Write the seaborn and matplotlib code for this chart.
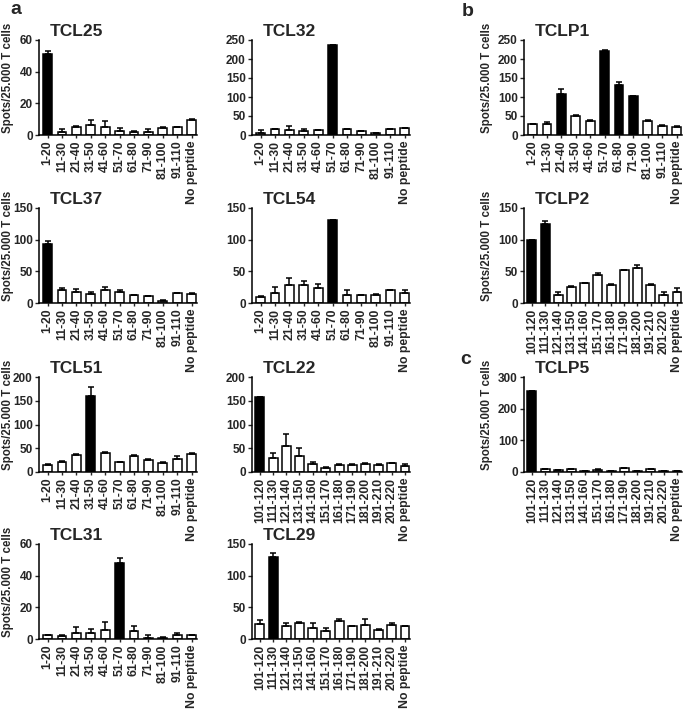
import matplotlib
matplotlib.use('Agg')
import matplotlib.pyplot as plt
import seaborn as sns
import pandas as pd
import numpy as np

sns.set_style('ticks')
plt.rcParams['font.family'] = ['Liberation Sans', 'DejaVu Sans']
plt.rcParams['font.weight'] = 'bold'
plt.rcParams['axes.labelweight'] = 'bold'

# ---------------- data ----------------
labels_low = ['1-20', '11-30', '21-40', '31-50', '41-60', '51-70', '61-80',
              '71-90', '81-100', '91-110', 'No peptide']
labels_high = ['101-120', '111-130', '121-140', '131-150', '141-160', '151-170',
               '161-180', '171-190', '181-200', '191-210', '201-220', 'No peptide']

tcl25_vals = [51, 2, 5, 6.5, 5, 2.5, 2, 2, 4.5, 5, 9.5]
tcl25_err = [2, 2, 1, 3, 4, 2, 0.3, 1.5, 0.3, 0.3, 0.3]
tcl25_pos = ['1-20']

tcl32_vals = [6, 15, 13, 10, 13, 236, 15, 10, 6, 16, 19]
tcl32_err = [7, 0.5, 11, 6, 0.5, 2, 0.5, 0.5, 0.5, 0.5, 0.5]
tcl32_pos = ['51-70']

tclp1_vals = [28, 28, 108, 50, 38, 222, 132, 102, 38, 25, 22]
tclp1_err = [2, 6, 12, 2, 2, 2, 8, 1, 2, 1, 1]
tclp1_pos = ['21-40', '51-70', '61-80', '71-90']

tcl37_vals = [93, 20, 17, 15, 21, 17, 12, 10.5, 3.5, 16, 15]
tcl37_err = [5, 4, 5, 3, 5, 4, 0.5, 0.5, 0.5, 0.5, 0.5]
tcl37_pos = ['1-20']

tcl54_vals = [10, 16, 28, 28, 23, 131, 13, 12, 13, 20, 16]
tcl54_err = [0.5, 10, 12, 6, 7, 0.5, 7, 0.5, 0.5, 0.5, 4]
tcl54_pos = ['51-70']

tclp2_vals = [99, 125, 13, 26, 31, 44, 29, 52, 55, 29, 12, 17]
tclp2_err = [1, 4, 5, 0.5, 0.5, 3, 0.5, 0.5, 5, 0.5, 5, 7]
tclp2_pos = ['101-120', '111-130']

tcl51_vals = [15, 22, 36, 160, 41, 21, 34, 25, 20, 28, 38]
tcl51_err = [1, 1, 2, 18, 2, 1, 1, 2, 1, 5, 1]
tcl51_pos = ['31-50']

tcl22_vals = [157, 30, 55, 34, 16, 9, 15, 15, 17, 15, 18, 12]
tcl22_err = [1, 11, 25, 16, 5, 1, 1, 1, 1, 1, 1, 4]
tcl22_pos = ['101-120']

tclp5_vals = [255, 10, 6, 10, 2, 7, 2, 13, 2, 10, 2, 2]
tclp5_err = [1, 1, 1, 1, 2, 1, 2, 1, 2, 1, 2, 2]
tclp5_pos = ['101-120']

tcl31_vals = [2.3, 2, 3.8, 3.8, 5.9, 48, 5.3, 0.6, 0.5, 2.5, 2.5]
tcl31_err = [0.2, 0.3, 4, 2.5, 5, 3, 3, 1.7, 0.5, 1.5, 0.3]
tcl31_pos = ['51-70']

tcl29_vals = [24, 130, 20, 26, 18, 13, 28, 20, 22, 15, 22, 20]
tcl29_err = [6, 6, 5, 0.5, 8, 4, 4, 0.5, 10, 0.5, 3, 0.5]
tcl29_pos = ['111-130']

ylab = 'Spots/25.000 T cells'

# panel: title, labels, values, errors, black bars, yticks, column, row, ylabel
panels = [
    ('TCL25', labels_low, tcl25_vals, tcl25_err, tcl25_pos, [0, 20, 40, 60], 0, 0, True),
    ('TCL32', labels_low, tcl32_vals, tcl32_err, tcl32_pos, [0, 50, 100, 150, 200, 250], 1, 0, False),
    ('TCLP1', labels_low, tclp1_vals, tclp1_err, tclp1_pos, [0, 50, 100, 150, 200, 250], 2, 0, True),
    ('TCL37', labels_low, tcl37_vals, tcl37_err, tcl37_pos, [0, 50, 100, 150], 0, 1, True),
    ('TCL54', labels_low, tcl54_vals, tcl54_err, tcl54_pos, [0, 50, 100, 150], 1, 1, False),
    ('TCLP2', labels_high, tclp2_vals, tclp2_err, tclp2_pos, [0, 50, 100, 150], 2, 1, True),
    ('TCL51', labels_low, tcl51_vals, tcl51_err, tcl51_pos, [0, 50, 100, 150, 200], 0, 2, True),
    ('TCL22', labels_high, tcl22_vals, tcl22_err, tcl22_pos, [0, 50, 100, 150, 200], 1, 2, False),
    ('TCLP5', labels_high, tclp5_vals, tclp5_err, tclp5_pos, [0, 100, 200, 300], 2, 2, True),
    ('TCL31', labels_low, tcl31_vals, tcl31_err, tcl31_pos, [0, 20, 40, 60], 0, 3, True),
    ('TCL29', labels_high, tcl29_vals, tcl29_err, tcl29_pos, [0, 50, 100, 150], 1, 3, False),
]

# ---------------- layout ----------------
W, H = 685, 713
fig = plt.figure(figsize=(W / 100, H / 100), dpi=100)
fig.patch.set_facecolor('white')

col_left = [39, 252, 524]
row_top = [40, 208, 377, 544]
ax_w, ax_h = 158, 95

for title, labels, vals, errs, pos, yticks, col, row, has_ylab in panels:
    left = col_left[col]
    top = row_top[row]
    ax = fig.add_axes([left / W, 1 - (top + ax_h) / H, ax_w / W, ax_h / H])
    n = len(labels)
    colors = {l: ('black' if l in pos else 'white') for l in labels}
    df = pd.DataFrame({'peptide': labels, 'spots': vals})
    sns.barplot(data=df, x='peptide', y='spots', hue='peptide', palette=colors,
                legend=False, edgecolor='black', linewidth=1.1, width=0.62 if n == 11 else 0.68,
                saturation=1, errorbar=None, ax=ax, order=labels, hue_order=labels)
    ax.errorbar(np.arange(n), vals, yerr=[np.zeros(n), errs], fmt='none',
                ecolor='black', elinewidth=1.1, capsize=2.2, capthick=1.1, zorder=3)
    ax.set_xlim(-0.6, n - 0.62)
    ax.set_ylim(0, yticks[-1])
    ax.set_yticks(yticks)
    ax.set_xlabel('')
    ax.set_ylabel('')
    ax.tick_params(axis='y', direction='out', length=3, width=1, labelsize=8.5, pad=1.5)
    ax.tick_params(axis='x', direction='out', length=2.5, width=1, labelsize=8.8, pad=1.5,
                   rotation=90)
    for lab in ax.get_xticklabels() + ax.get_yticklabels():
        lab.set_fontweight('bold')
    for s in ['top', 'right']:
        ax.spines[s].set_visible(False)
    for s in ['left', 'bottom']:
        ax.spines[s].set_linewidth(1.1)
        ax.spines[s].set_color('black')
    ax.text(0.07, 1.01, title, transform=ax.transAxes, fontsize=12.5,
            fontweight='bold', ha='left', va='bottom')
    if has_ylab:
        ax.set_ylabel(ylab, fontsize=8.3, fontweight='bold')
        ax.yaxis.set_label_coords(-0.16 if col == 0 else -0.195, 0.6)

fig.text(10 / W, 1 - 10 / H, 'a', fontsize=14, fontweight='bold', ha='left', va='center')
fig.text(462 / W, 1 - 11 / H, 'b', fontsize=14, fontweight='bold', ha='left', va='center')
fig.text(460 / W, 1 - 360 / H, 'c', fontsize=14, fontweight='bold', ha='left', va='center')

fig.savefig('out.png', dpi=100, facecolor='white')
